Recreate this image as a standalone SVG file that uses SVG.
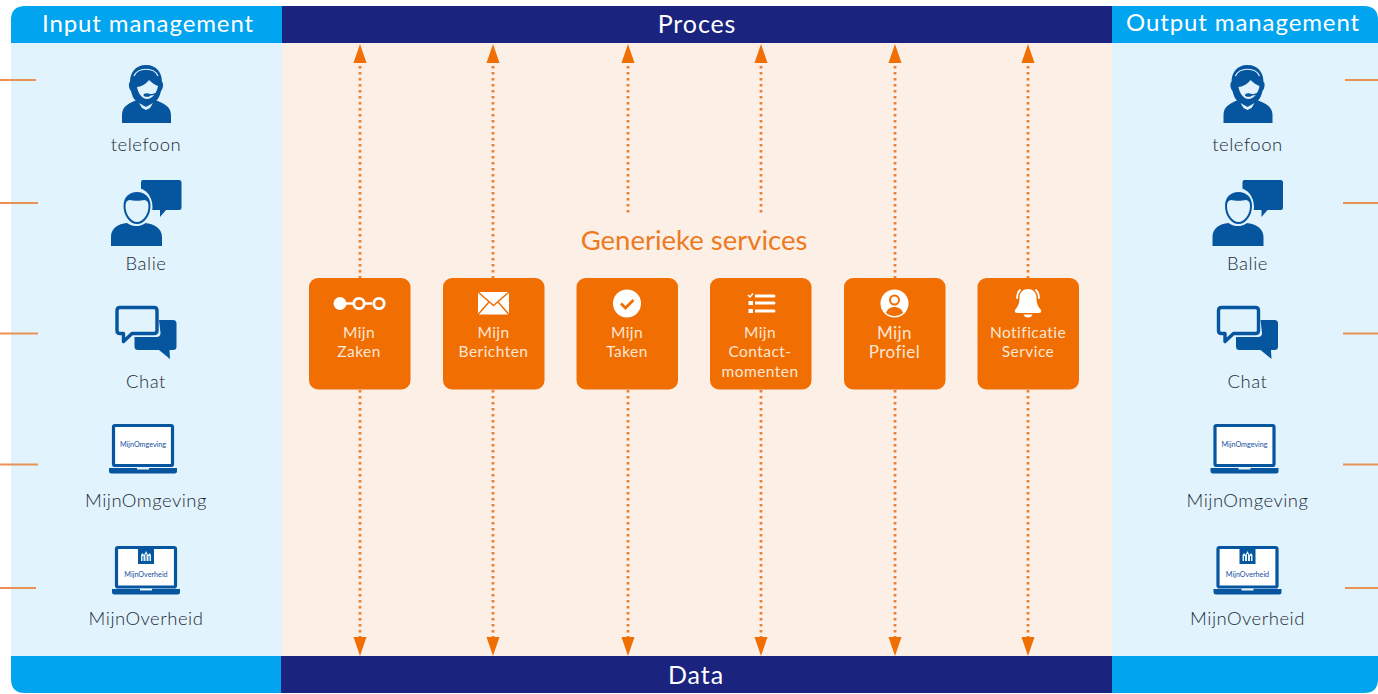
<svg xmlns="http://www.w3.org/2000/svg" width="1378" height="694" viewBox="0 0 1378 694">
<style>
text{font-family:Lato,"Open Sans","Liberation Sans",sans-serif}
.h{font-size:24px;fill:#fff;text-anchor:middle;letter-spacing:.9px}
.l{font-size:18.5px;fill:#1f2a35;text-anchor:middle;letter-spacing:.5px;font-weight:300}
.s{font-size:15.5px;fill:#fde6d4;text-anchor:middle;letter-spacing:.45px}
.box{fill:#f06e02}
.ic{fill:#fff}
.b{fill:#06559f}
.bl{fill:#fff;stroke:#06559f}
.tick{stroke:#ea9255;stroke-width:1.8;fill:none}
.dot{stroke:#e98038;stroke-width:2.800;stroke-dasharray:2.600 3.400;fill:none}
.head{fill:#f06e02}
.mini{font-size:7.200px;fill:#1650a0;text-anchor:middle}
</style>
<defs>
<g id="i-tel">
<path class="b" d="M122 123v-8c0-9 7-12 17-16l7 7 7-7c10 4 18 7 18 16v8z"/>
<path class="b" d="M146 65c-11 0-16 8-16 17-2 1-1 7 1 9 1 4 2 7 4 9l11 6 11-6c2-2 3-5 4-9 2-2 3-8 1-9 0-9-5-17-16-17z"/>
<path fill="#e1f3fd" d="M137 87c4 0 9-3 12-7 3 3 6 5 9 6-1 7-6 13-11 13-5 0-9-6-10-12z"/>
<path fill="none" stroke="#e1f3fd" stroke-width="1.200" d="M134 76c4-9 20-9 24 0"/>
<path fill="none" stroke="#06559f" stroke-width="1.400" d="M160 88c0 5-6 7-13 7"/>
<ellipse class="b" cx="147" cy="95" rx="3.500" ry="1.800"/>
<path fill="#e1f3fd" d="M139 103l7 4 7-4-3 5-4 2-4-2z"/>
</g>
<g id="i-balie">
<path class="b" d="M143 180h36q2.500 0 2.500 2.500v25q0 2.500-2.500 2.500h-13l-6 7v-7h-19v-28q0-2 2-2z"/>
<path class="b" d="M111 246v-9c0-9 7-13 16-14 5 4 13 4 18 0 9 1 17 5 17 14v9z"/>
<ellipse cx="137" cy="207" rx="15.500" ry="19" fill="#e1f3fd"/>
<path fill="#e1f3fd" stroke="#06559f" stroke-width="2" d="M124.500 206c0-8 5-13 12.500-13s12.500 5 12.500 13c0 9-6 17-12.500 17s-12.500-8-12.500-17z"/>
<path class="b" d="M124.500 206c0-8 5-13 12.500-13s12.500 5 12.500 13c-1-4-3-6-5-6-4 1-11 1-15 0-2 0-4 2-5 6z"/>
</g>
<g id="i-chat">
<path fill="#e1f3fd" stroke="#06559f" stroke-width="3.400" stroke-linejoin="round" d="M120 307.500h34q3 0 3 3v20q0 3-3 3h-22l-8.500 8v-8h-3.500q-3 0-3-3v-20q0-3 3-3z"/>
<path class="b" d="M159 320h14q3.500 0 3.500 3.500v23q0 3.500-3.500 3.500h-3.500l.5 9-11-9h-21q-3.500 0-3.500-3.500v-9.500h22q4 0 4-4z"/>
</g>
<g id="i-mo">
<rect class="bl" x="113.500" y="425.500" width="59" height="40" rx="1.500" stroke-width="3.200"/>
<path class="b" d="M109 468h68v3q0 2.500-2.500 2.500h-63q-2.500 0-2.500-2.500z"/>
<rect x="137" y="467.500" width="12" height="2" fill="#e1f3fd"/>
<text class="mini" x="143" y="447">MijnOmgeving</text>
</g>
<g id="i-mv">
<rect class="bl" x="116.500" y="547.500" width="59" height="39.500" rx="1.500" stroke-width="3.200"/>
<path class="b" d="M112 589h68v3q0 2.500-2.500 2.500h-63q-2.500 0-2.500-2.500z"/>
<rect x="140" y="588.500" width="12" height="2" fill="#e1f3fd"/>
<rect class="b" x="138" y="546" width="16" height="18"/>
<path fill="#e1f3fd" d="M141 561v-6l1.500-2 1.500 2 2-4 2 4 1.500-2 1.500 2v6z"/>
<path class="b" d="M142.500 556h1v5h-1zM145.500 554h1v7h-1zM148.500 556h1v5h-1z"/>
<text class="mini" x="146" y="576.500">MijnOverheid</text>
</g>
<g id="up"><path class="head" d="M0 0l6.500 19h-13z"/></g>
<g id="down"><path class="head" d="M0 0l6.500-19h-13z"/></g>
</defs>

<g id="background">
<rect width="1378" height="694" fill="#fff"/>
<path d="M11 43h271v613H11z" fill="#e1f3fd"/>
<path d="M282 43h830v613H282z" fill="#fcefe6"/>
<path d="M1112 43h266v613h-266z" fill="#e1f3fd"/>
</g>

<g id="input-header">
<path d="M282 6H25Q11 6 11 20v23h271z" fill="#00a4ef"/>
<text class="h" x="148" y="32">Input management</text>
</g>
<g id="proces">
<rect x="282" y="6" width="830" height="37" fill="#1a237e"/>
<text class="h" x="697" y="33" style="font-size:25px">Proces</text>
</g>
<g id="output-header">
<path d="M1112 6h252q14 0 14 14v23h-266z" fill="#00a4ef"/>
<text class="h" x="1243" y="31">Output management</text>
</g>
<g id="input-footer"><path d="M11 656h271v37H25q-14 0-14-14z" fill="#00a4ef"/></g>
<g id="data">
<rect x="281" y="656" width="831" height="37" fill="#1a237e"/>
<text class="h" x="696" y="684" style="font-size:25px">Data</text>
</g>
<g id="output-footer"><path d="M1112 656h266v23q0 14-14 14h-252z" fill="#00a4ef"/></g>

<g id="connectors">
<path class="tick" d="M0 80h36M0 203h38M0 333.500h38M0 464.500h38M0 588h36M1345 80h33M1343 203h35M1343 333.500h35M1343 464.500h35M1345 588h33"/>
<path class="dot" d="M360 60V278M493 60V278M628 60V214M761 60V214M895 60V278M1028 60V278"/>
<path class="dot" d="M360 390V640M493 390V640M628 390V640M761 390V640M895 390V640M1028 390V640"/>
<use href="#up" x="360" y="44"/><use href="#up" x="493" y="44"/><use href="#up" x="628" y="44"/><use href="#up" x="761" y="44"/><use href="#up" x="895" y="44"/><use href="#up" x="1028" y="44"/>
<use href="#down" x="360" y="656"/><use href="#down" x="493" y="656"/><use href="#down" x="628" y="656"/><use href="#down" x="761" y="656"/><use href="#down" x="895" y="656"/><use href="#down" x="1028" y="656"/>
</g>

<g id="in-telefoon"><use href="#i-tel"/><text class="l" x="146" y="151">telefoon</text></g>
<g id="in-balie"><use href="#i-balie"/><text class="l" x="146" y="270">Balie</text></g>
<g id="in-chat"><use href="#i-chat"/><text class="l" x="146" y="388">Chat</text></g>
<g id="in-mijnomgeving"><use href="#i-mo"/><text class="l" x="146" y="507">MijnOmgeving</text></g>
<g id="in-mijnoverheid"><use href="#i-mv"/><text class="l" x="146" y="625">MijnOverheid</text></g>

<g id="out-telefoon"><use href="#i-tel" x="1101.500"/><text class="l" x="1247.500" y="151">telefoon</text></g>
<g id="out-balie"><use href="#i-balie" x="1101.500"/><text class="l" x="1247.500" y="270">Balie</text></g>
<g id="out-chat"><use href="#i-chat" x="1101.500"/><text class="l" x="1247.500" y="388">Chat</text></g>
<g id="out-mijnomgeving"><use href="#i-mo" x="1101.500"/><text class="l" x="1247.500" y="507">MijnOmgeving</text></g>
<g id="out-mijnoverheid"><use href="#i-mv" x="1101.500"/><text class="l" x="1247.500" y="625">MijnOverheid</text></g>

<g id="generieke"><text x="694" y="250" text-anchor="middle" fill="#ee7a1f" font-size="27.500">Generieke services</text></g>

<g id="mijn-zaken">
<rect class="box" x="309" y="278" width="101.500" height="111.500" rx="9"/>
<circle class="ic" cx="340" cy="303.500" r="6.500"/>
<path fill="none" stroke="#fff" stroke-width="2.600" d="M346 303.500h7M365 303.500h7"/>
<circle cx="359" cy="303.500" r="5.200" fill="none" stroke="#fff" stroke-width="2.800"/>
<circle cx="379" cy="303.500" r="5.200" fill="none" stroke="#fff" stroke-width="2.800"/>
<text class="s" x="359" y="338">Mijn</text><text class="s" x="359" y="357">Zaken</text>
</g>
<g id="mijn-berichten">
<rect class="box" x="443" y="278" width="101.500" height="111.500" rx="9"/>
<rect class="ic" x="478" y="292" width="31" height="22.500"/>
<path fill="none" stroke="#f06e02" stroke-width="1.500" d="M478 292l15.500 13.500L509 292M478 314.500l11-12.500M509 314.500l-11-12.500"/>
<text class="s" x="493.500" y="338">Mijn</text><text class="s" x="493.500" y="357">Berichten</text>
</g>
<g id="mijn-taken">
<rect class="box" x="576.500" y="278" width="101.500" height="111.500" rx="9"/>
<circle class="ic" cx="627" cy="303.500" r="14"/>
<path fill="none" stroke="#f06e02" stroke-width="2.800" d="M621 303.500l4.500 4.500 8-8"/>
<text class="s" x="627" y="338">Mijn</text><text class="s" x="627" y="357">Taken</text>
</g>
<g id="mijn-contactmomenten">
<rect class="box" x="710" y="278" width="101.500" height="111.500" rx="9"/>
<path class="ic" d="M755 294.500h19a1.500 1.500 0 0 1 0 3h-19zM755 301.500h19a1.500 1.500 0 0 1 0 3h-19zM755 309.500h19a1.500 1.500 0 0 1 0 3h-19zM748.500 301h4.500v4h-4.500zM748.500 309h4.500v4h-4.500z"/>
<path fill="none" stroke="#fff" stroke-width="1.500" d="M748 295l2 2 3-3.500"/>
<text class="s" x="760" y="338">Mijn</text><text class="s" x="760" y="357">Contact-</text><text class="s" x="760" y="376.500">momenten</text>
</g>
<g id="mijn-profiel">
<rect class="box" x="844" y="278" width="101.500" height="111.500" rx="9"/>
<circle class="ic" cx="894.500" cy="303.500" r="14"/>
<circle cx="894.500" cy="300" r="4.500" fill="none" stroke="#f06e02" stroke-width="2"/>
<path class="box" d="M886 313c1-4 5-6 8.500-6s7.500 2 8.500 6c-2.500 2-5.500 3-8.500 3s-6-1-8.500-3z"/>
<text class="s" x="894.500" y="339" style="font-size:17px">Mijn</text><text class="s" x="894.500" y="358" style="font-size:17px">Profiel</text>
</g>
<g id="notificatie-service">
<rect class="box" x="977.500" y="278" width="101.500" height="111.500" rx="9"/>
<path class="ic" d="M1028 289c5.500 0 8.500 4 8.500 9 0 6 2 9 4.500 12 .5 1.500 0 3-2 3h-22c-2 0-2.500-1.500-2-3 2.500-3 4.500-6 4.500-12 0-5 3-9 8.500-9z"/>
<path class="ic" d="M1023.500 314.500h9c-.5 2-2.500 3-4.500 3s-4-1-4.500-3z"/>
<path fill="none" stroke="#fff" stroke-width="1.800" stroke-linecap="round" d="M1017 298c0-3 1-6 3-8M1039 298c0-3-1-6-3-8"/>
<text class="s" x="1028" y="338">Notificatie</text><text class="s" x="1028" y="357">Service</text>
</g>
</svg>
